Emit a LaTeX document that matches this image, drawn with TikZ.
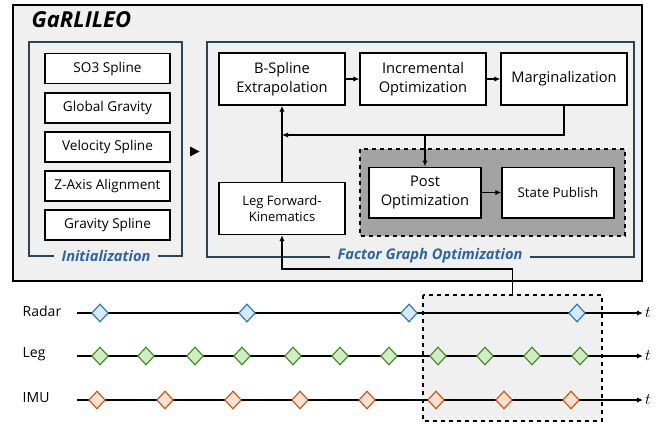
\documentclass[tikz,border=0pt]{standalone}
\usepackage{fontspec}
\setmainfont{Open Sans}
\usetikzlibrary{arrows.meta,shapes.geometric}
\definecolor{bggray}{HTML}{F0F0F0}
\definecolor{darkbox}{HTML}{A3A3A3}
\definecolor{framecol}{HTML}{2B4356}
\definecolor{lblblue}{HTML}{2E64A4}
\definecolor{radarline}{HTML}{2A7DB5}
\definecolor{radarfill}{HTML}{D9E8F6}
\definecolor{legline}{HTML}{4B8C2A}
\definecolor{legfill}{HTML}{CFEEC6}
\definecolor{imuline}{HTML}{CC5A1E}
\definecolor{imufill}{HTML}{FBDFCF}
\tikzset{
  initbox/.style={draw, line width=1pt, fill=white, minimum width=93.75pt, minimum height=22.5pt, inner sep=1pt, font=\fontsize{10.2}{12}\selectfont},
  optbox/.style={draw, line width=1pt, fill=white, minimum width=94.5pt, minimum height=39pt, inner sep=1pt, align=center, font=\fontsize{11}{14}\selectfont},
  framelbl/.style={fill=bggray, inner xsep=6pt, inner ysep=1pt, text=lblblue, font=\fontsize{11}{13}\selectfont\bfseries\itshape},
  sample/.style={diamond, draw, line width=0.9pt, inner sep=0pt, minimum width=12.5pt, minimum height=13.5pt},
  flow/.style={line width=1.1pt, -{Latex[length=4.5pt,width=4pt]}},
}
\begin{document}
\begin{tikzpicture}[x=0.75pt, y=-0.75pt]
  \useasboundingbox (0,0) rectangle (670,430);
  % Outer system box
  \draw[line width=1.2pt, fill=bggray] (13,5) rectangle (642,281);
  \node[anchor=west, font=\fontsize{16.5}{18}\selectfont\bfseries\itshape] (title) at (27,20) {GaRLILEO};
  % Initialization
  \draw[framecol, line width=1.1pt] (29,42) rectangle (182,256);
  \node[framelbl] (initlbl) at (106,256) {Initialization};
  \node[initbox] (so3) at (107.5,68.5) {SO3 Spline};
  \node[initbox] (ggrav) at (107.5,108) {Global Gravity};
  \node[initbox] (vel) at (107.5,147) {Velocity Spline};
  \node[initbox] (zaxis) at (107.5,186) {Z-Axis Alignment};
  \node[initbox] (gspl) at (107.5,225) {Gravity Spline};
  \fill (190,146.5) -- (199.5,151.5) -- (190,156.5) -- cycle;
  % Factor graph optimization
  \draw[framecol, line width=1.1pt] (207,42) rectangle (634,257);
  \node[framelbl] (fgolbl) at (430,256) {Factor Graph Optimization};
  \draw[dashed, line width=1pt, fill=darkbox] (360,149) rectangle (625,236);
  \node[optbox] (bspl) at (282,79) {B-Spline\\Extrapolation};
  \node[optbox] (incr) at (423,79) {Incremental\\Optimization};
  \node[optbox] (marg) at (564,79) {Marginalization};
  \node[optbox, font=\fontsize{9.8}{12}\selectfont] (legfk) at (282,208.5) {Leg Forward-\\Kinematics};
  \node[optbox, minimum width=84pt, minimum height=38pt] (post) at (425,192.5) {Post\\Optimization};
  \node[optbox, minimum width=84pt, minimum height=38pt, font=\fontsize{10}{12}\selectfont] (pub) at (558,192.5) {State Publish};
  \coordinate (loop) at (282,135);
  \coordinate (split) at (425,135);
  \draw[flow] (bspl) -- (incr);
  \draw[flow] (incr) -- (marg);
  \draw[flow] (legfk) -- (bspl);
  \draw[flow] (marg.south) |- (loop);
  \draw[flow] (split) -- (post);
  \draw[flow] (post) -- (pub);
  % Sensor timelines
  \draw[dashed, line width=1pt, fill=bggray] (423,295) rectangle (602,421);
  \coordinate (win) at (512.5,295);
  \coordinate (feed) at (282,269);
  \draw[flow] (win) |- (feed) -- (legfk.south);
  \node[anchor=west, font=\fontsize{10.5}{12}\selectfont] (radar) at (18,311) {Radar};
  \node[anchor=west, font=\fontsize{10.5}{12}\selectfont] (leg) at (18,354) {Leg};
  \node[anchor=west, font=\fontsize{10.5}{12}\selectfont] (imu) at (18,398) {IMU};
  \draw[flow] (77,313) -- (643,313) node[right, inner sep=1pt, font=\large] (tr) {$t$};
  \draw[flow] (77,356) -- (643,356) node[right, inner sep=1pt, font=\large] (tl) {$t$};
  \draw[flow] (77,400) -- (643,400) node[right, inner sep=1pt, font=\large] (ti) {$t$};
  % Draw samples
  \foreach \x in {100,247,409,577}
    \node[sample, draw=radarline, fill=radarfill] at (\x,313) {};
  \foreach \x in {100,146,195,242,293,340,389,438,485,532,580}
    \node[sample, draw=legline, fill=legfill] at (\x,356) {};
  \foreach \x in {97,165,233,300,367,436,504,571}
    \node[sample, draw=imuline, fill=imufill] at (\x,400) {};
\end{tikzpicture}
\end{document}
